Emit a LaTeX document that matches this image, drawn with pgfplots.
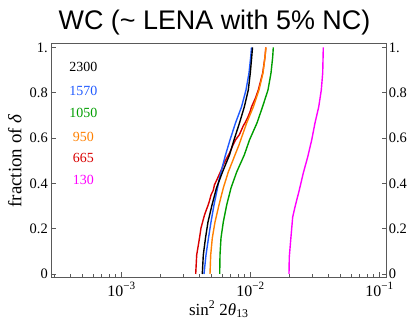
\documentclass[border=0pt]{standalone}
\usepackage{pgfplots}
\pgfplotsset{compat=1.18}
\usepackage{fontspec}
\setmainfont{Liberation Serif}
\newfontfamily\titlefont{Liberation Sans}
\definecolor{cblue}{rgb}{0.12,0.35,1}
\definecolor{cgreen}{rgb}{0,0.62,0}
\definecolor{corange}{rgb}{1,0.5,0}
\definecolor{cred}{rgb}{0.85,0,0}
\definecolor{cmag}{rgb}{1,0,1}
\definecolor{framec}{gray}{0.35}
\begin{document}
\begin{tikzpicture}[x=1bp,y=1bp]
\begin{axis}[
  at={(0,0)}, anchor=south west, scale only axis,
  width=335.7bp, height=233.5bp,
  xmode=log, xmin=2.841e-4, xmax=0.1137, ymin=-0.0146, ymax=1.016,
  ytick={0,0.2,0.4,0.6,0.8,1}, yticklabels={0,0.2,0.4,0.6,0.8,1.},
  yticklabel style={font=\fontsize{14.5}{14.5}\selectfont, inner sep=0pt, xshift=-3bp},
  xticklabel style={font=\fontsize{16}{16}\selectfont, inner sep=0pt, yshift=-5bp},
  clip=false,
  xtick={1e-3,1e-2,1e-1},
  xticklabels={10\textsuperscript{−3},10\textsuperscript{−2},10\textsuperscript{−1}},
  minor xtick={3e-4,4e-4,5e-4,6e-4,7e-4,8e-4,9e-4,2e-3,3e-3,4e-3,5e-3,6e-3,7e-3,8e-3,9e-3,2e-2,3e-2,4e-2,5e-2,6e-2,7e-2,8e-2,9e-2},
  xtick pos=bottom, ytick pos=both, yticklabel pos=left,
  axis line style={draw=framec, line width=0.9bp},
  tick style={draw=framec, line width=0.7bp},
  major tick length=5bp, minor tick length=3bp,
  every axis plot/.append style={line width=1.4bp, line join=round},
]
\addplot[cmag] coordinates {(0.019882,0) (0.019989,0.075) (0.020494,0.150) (0.021238,0.2517) (0.022128,0.2958) (0.023896,0.3709) (0.025665,0.4459) (0.027760,0.5166) (0.029816,0.5916) (0.031623,0.6667) (0.033783,0.7373) (0.035387,0.8124) (0.036282,0.8874) (0.036672,1)};
\addplot[cred] coordinates {(0.003760,0) (0.003828,0.0839) (0.004024,0.159) (0.004133,0.203) (0.004400,0.2605) (0.004560,0.2850) (0.004700,0.3050) (0.004820,0.3250) (0.004941,0.3488) (0.005150,0.3700) (0.005250,0.3929) (0.005499,0.4171) (0.005700,0.4371) (0.005959,0.461) (0.006150,0.481) (0.006458,0.5054) (0.006900,0.5354) (0.007317,0.5695) (0.007651,0.5916) (0.008200,0.6150) (0.008500,0.6350) (0.008800,0.6546) (0.009064,0.6667) (0.009500,0.6900) (0.009911,0.7152) (0.010180,0.7373) (0.010934,0.777) (0.011495,0.8124) (0.012432,0.8874) (0.012953,0.958) (0.013139,1)};
\addplot[corange] coordinates {(0.004853,0) (0.004914,0.0839) (0.005057,0.159) (0.005307,0.2296) (0.005699,0.3046) (0.006154,0.3797) (0.006728,0.4503) (0.007583,0.5254) (0.008144,0.5695) (0.008395,0.5916) (0.009344,0.6667) (0.010512,0.7373) (0.011639,0.8124) (0.012500,0.8874) (0.012953,0.958) (0.013188,1)};
\addplot[cgreen] coordinates {(0.005771,0) (0.005802,0.0839) (0.005906,0.159) (0.006154,0.2296) (0.006539,0.3046) (0.007061,0.3797) (0.007817,0.4503) (0.008952,0.5254) (0.009823,0.5916) (0.011230,0.6667) (0.012387,0.7373) (0.013667,0.8124) (0.014419,0.8874) (0.014863,0.958) (0.015023,1)};
\addplot[cblue] coordinates {(0.004361,0) (0.004519,0.0839) (0.004725,0.159) (0.004941,0.2296) (0.005213,0.3046) (0.005549,0.3797) (0.005699,0.415) (0.005906,0.4503) (0.006400,0.5254) (0.006936,0.5916) (0.007651,0.6667) (0.008516,0.7373) (0.009228,0.8124) (0.009736,0.8874) (0.010036,0.958) (0.010180,1)};
\addplot[black] coordinates {(0.004230,0) (0.004306,0.0839) (0.004479,0.159) (0.004683,0.2296) (0.005030,0.3046) (0.005450,0.3797) (0.006067,0.4503) (0.006874,0.5254) (0.007449,0.5916) (0.008217,0.6667) (0.008952,0.7373) (0.009615,0.8124) (0.009964,0.8874) (0.010217,0.958) (0.010363,1)};
\node[font=\fontsize{14}{14}\selectfont, text=black] at (axis description cs:0.0962,0.8997) {2300};
\node[font=\fontsize{14}{14}\selectfont, text=cblue] at (axis description cs:0.0962,0.7964) {1570};
\node[font=\fontsize{14}{14}\selectfont, text=cgreen] at (axis description cs:0.0962,0.703) {1050};
\node[font=\fontsize{14}{14}\selectfont, text=corange] at (axis description cs:0.0962,0.601) {950};
\node[font=\fontsize{14}{14}\selectfont, text=cred] at (axis description cs:0.0962,0.509) {665};
\node[font=\fontsize{14}{14}\selectfont, text=cmag] at (axis description cs:0.0962,0.416) {130};
\node[anchor=base, font=\titlefont\fontsize{27}{27}\selectfont] at (axis description cs:0.487,1.063) {WC (\textasciitilde\ LENA with 5\% NC)};
\node[anchor=base, font=\fontsize{17}{17}\selectfont] at (axis description cs:0.5,-0.162) {sin\textsuperscript{2} 2\textit{θ}\textsubscript{13}};
\node[anchor=base, rotate=90, font=\fontsize{19}{19}\selectfont] at (axis description cs:-0.0879,0.4985) {fraction of \textit{δ}};
\end{axis}
\begin{axis}[
  at={(0,0)}, anchor=south west, scale only axis,
  width=335.7bp, height=233.5bp,
  xmin=0, xmax=1, ymin=-0.0146, ymax=1.016,
  ytick={0,0.2,0.4,0.6,0.8,1}, yticklabels={0,0.2,0.4,0.6,0.8,1.},
  yticklabel style={font=\fontsize{14.5}{14.5}\selectfont, inner sep=0pt, xshift=2bp},
  axis line style={draw=none}, xtick=\empty,
  ytick pos=right, yticklabel pos=right,
  major tick length=0pt,
]
\addplot[draw=none] coordinates {(0.5,0.5)};
\end{axis}
\pgfresetboundingbox
\useasboundingbox (-51,-42.7) rectangle (357,277.3);
\end{tikzpicture}
\end{document}
